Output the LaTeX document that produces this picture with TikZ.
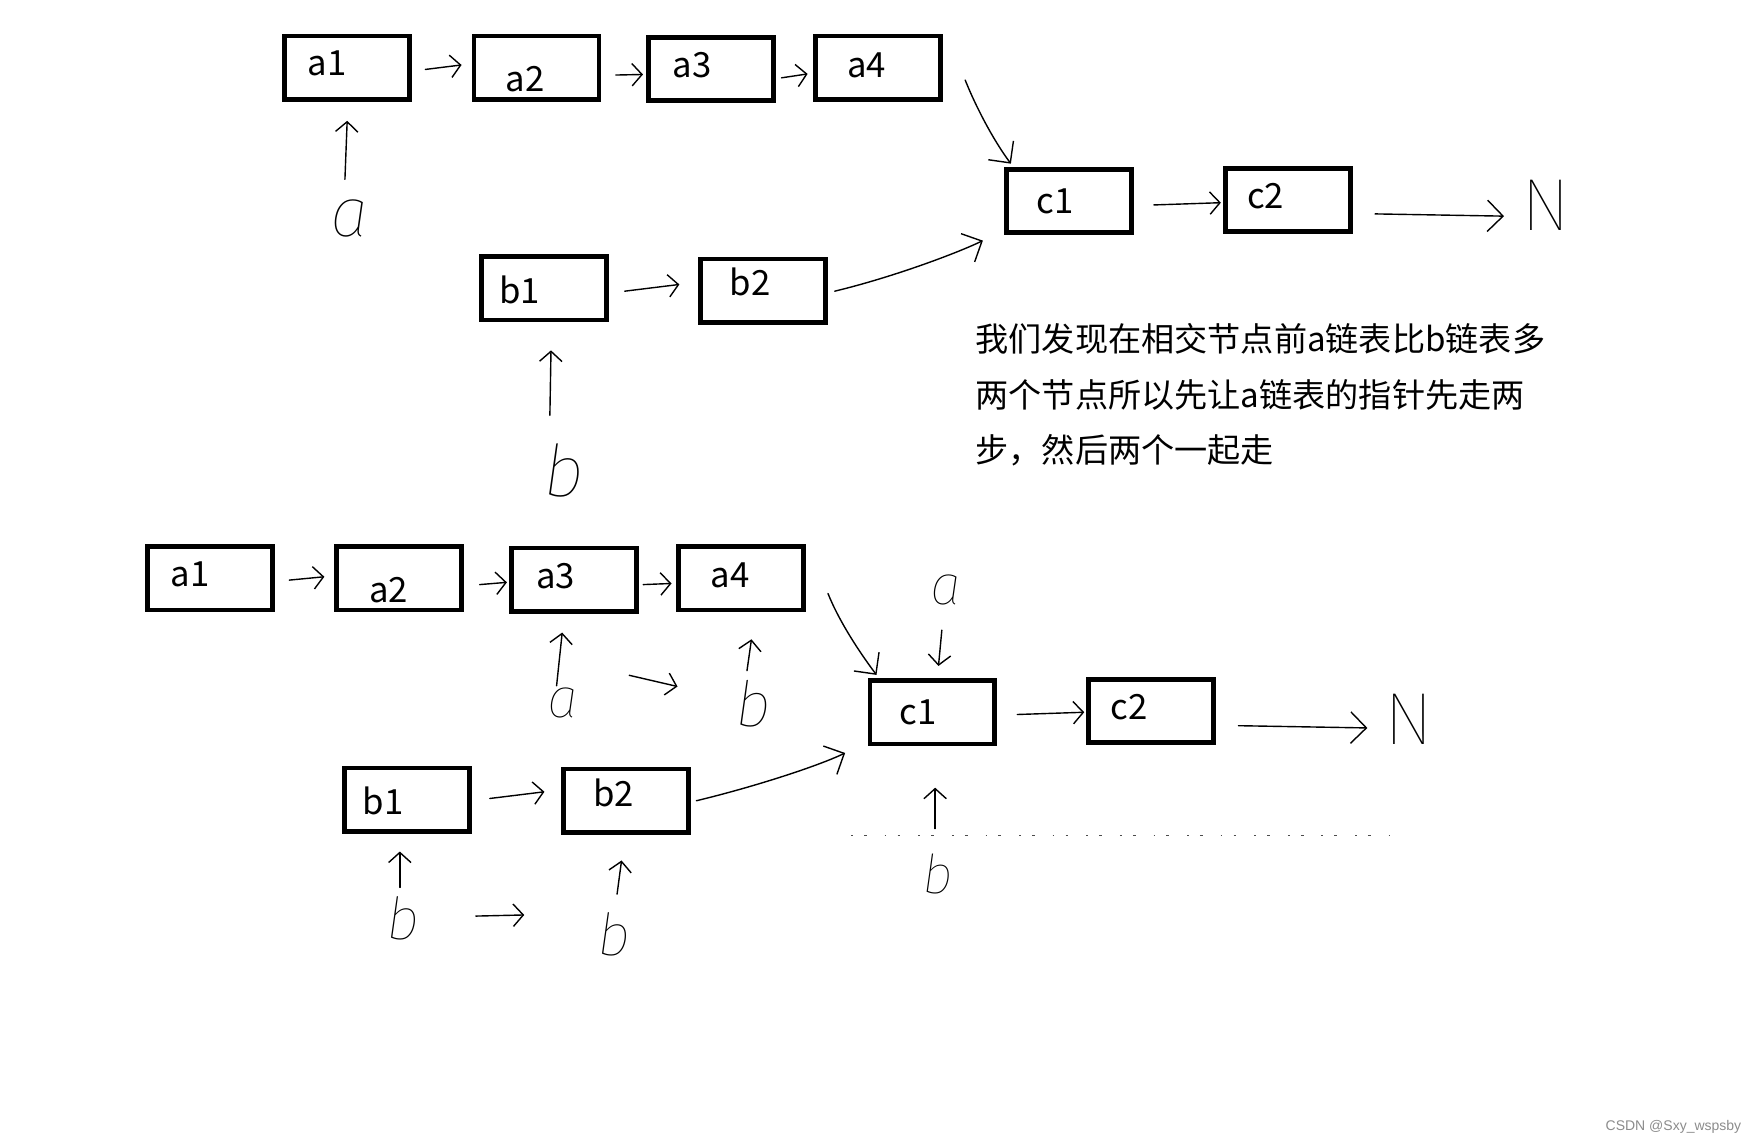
\documentclass[tikz,border=0pt]{standalone}
\usepackage{fontspec}
\usetikzlibrary{arrows.meta}
\newfontfamily\cjk{Noto Sans CJK SC}
\newfontfamily\handi{Fira Sans Thin Italic}
\newfontfamily\handn{Fira Sans Thin}
\newfontfamily\wmfont{Liberation Sans}
\tikzset{
  box/.style={draw, line width=4.2pt, minimum width=111.5pt, minimum height=56.5pt, inner sep=0pt},
  lab/.style={font=\cjk\fontsize{31}{31}\selectfont, inner sep=0pt},
  hand/.style={font=\handi\fontsize{#1}{#1}\selectfont, inner sep=0pt},
  handN/.style={font=\handn\fontsize{66}{66}\selectfont, inner sep=0pt},
  harrow/.style={line width=1.25pt, line cap=round, -{Straight Barb[length=9pt,width=20pt,line width=1.25pt]}},
  bigarrow/.style={line width=1.25pt, line cap=round, -{Straight Barb[length=14pt,width=28pt,line width=1.25pt]}},
  body/.style={font=\cjk\fontsize{29.6}{29.6}\selectfont, inner sep=0pt, anchor=base west}
}
\begin{document}
\begin{tikzpicture}[x=1pt,y=-1pt]
\fill[white] (0,0) rectangle (1568,1022);
\useasboundingbox (0,0) rectangle (1568,1022);

% ---------- top diagram ----------
\node[box] (ta1) at (310,60.5) {};
\node[box] (ta2) at (479,60.5) {};
\node[box] (ta3) at (635,61.5) {};
\node[box] (ta4) at (784,60.5) {};
\node[box] (tc1) at (954.5,179.5) {};
\node[box] (tc2) at (1150,178.5) {};
\node[box] (tb1) at (486,257.5) {};
\node[box] (tb2) at (681.5,259.5) {};

\node[lab] (ta1t) at (292,57) {a1};
\node[lab] (ta2t) at (469,71) {a2};
\node[lab] (ta3t) at (618,58) {a3};
\node[lab] (ta4t) at (774,58) {a4};
\node[lab] (tc1t) at (942,180) {c1};
\node[lab] (tc2t) at (1130,175) {c2};
\node[lab] (tb1t) at (464,259) {b1};
\node[lab] (tb2t) at (670,252) {b2};

\node[handN] (tN) at (1380,183) {N};
\node[hand=62] (tpa) at (312,195) {a};
\node[hand=64] (tpb) at (503,420) {b};

\draw[harrow] ([shift={(12,1.5)}]ta1.east) -- ([shift={(-9,-2.5)}]ta2.west);
\draw[harrow] ([shift={(13,6.5)}]ta2.east) -- ([shift={(-3,5)}]ta3.west);
\draw[harrow] ([shift={(5,8)}]ta3.east) -- ([shift={(-5,5.5)}]ta4.west);
\draw[bigarrow] ([shift={(20,11)}]ta4.east) .. controls +(10,25) and +(-15,-20) .. ([shift={(6,-3)}]tc1.north west);
\draw[harrow] ([shift={(18,3.5)}]tc1.east) -- ([shift={(-2,2.5)}]tc2.west);
\draw[bigarrow] ([shift={(20,12.5)}]tc2.east) -- ([shift={(-15,10)}]tN.west);
\draw[harrow] ([shift={(14,2.5)}]tb1.east) -- ([shift={(-17,-5.5)}]tb2.west);
\draw[bigarrow] ([shift={(6,0.5)}]tb2.east) .. controls +(50,-12) and +(-25,12) .. ([shift={(-19,5)}]tc1.south west);
\draw[harrow] ([shift={(-4,-18)}]tpa.north) -- ([shift={(0,17)}]ta1.south);
\draw[harrow] ([shift={(-12,-25)}]tpb.north) -- ([shift={(6,25)}]tb1.south);

% ---------- explanation ----------
\node[body] (t1) at (871,314) {我们发现在相交节点前a链表比b链表多};
\node[body] (t2) at (871,364) {两个节点所以先让a链表的指针先走两};
\node[body] (t3) at (871,413) {步，然后两个一起走};

% ---------- bottom diagram ----------
\node[box] (ba1) at (187.5,516.5) {};
\node[box] (ba2) at (356.5,516.5) {};
\node[box] (ba3) at (512.5,517.5) {};
\node[box] (ba4) at (661.5,516.5) {};
\node[box] (bc1) at (832.5,636) {};
\node[box] (bc2) at (1028,635) {};
\node[box] (bb1) at (363.5,714) {};
\node[box] (bb2) at (559,715) {};

\node[lab] (ba1t) at (170,513) {a1};
\node[lab] (ba2t) at (347,527) {a2};
\node[lab] (ba3t) at (496,514) {a3};
\node[lab] (ba4t) at (652,514) {a4};
\node[lab] (bc1t) at (820,636) {c1};
\node[lab] (bc2t) at (1008,631) {c2};
\node[lab] (bb1t) at (342,715) {b1};
\node[lab] (bb2t) at (548,708) {b2};

\node[handN] (bN) at (1258,642) {N};
\node[hand=50] (pa3) at (503,628) {a};
\node[hand=56] (pb4) at (673,628) {b};
\node[hand=50] (pca) at (845,527) {a};
\node[hand=48] (pcb) at (837,780) {b};
\node[hand=52] (pb1) at (360,820) {b};
\node[hand=52] (pb2) at (548,834) {b};

\draw[harrow] ([shift={(13,1.5)}]ba1.east) -- ([shift={(-9,-1.5)}]ba2.west);
\draw[harrow] ([shift={(14,5.5)}]ba2.east) -- ([shift={(-2,2.5)}]ba3.west);
\draw[harrow] ([shift={(4,4.5)}]ba3.east) -- ([shift={(-4,4.5)}]ba4.west);
\draw[bigarrow] ([shift={(20,13.5)}]ba4.east) .. controls +(10,25) and +(-15,-20) .. ([shift={(8,-3)}]bc1.north west);
\draw[harrow] ([shift={(16,-1)}]bb1.east) -- ([shift={(-15,-8)}]bb2.west);
\draw[bigarrow] ([shift={(5,0)}]bb2.east) .. controls +(50,-12) and +(-25,12) .. ([shift={(-20,6)}]bc1.south west);
\draw[harrow] ([shift={(18,2)}]bc1.east) -- ([shift={(-2,1)}]bc2.west);
\draw[bigarrow] ([shift={(20,13)}]bc2.east) -- ([shift={(-15,8)}]bN.west);

\draw[harrow] ([shift={(-6,-2)}]pa3.north) -- ([shift={(-10.5,17)}]ba3.south);
\draw[harrow] ([shift={(45,-25)}]pa3.east) -- ([shift={(-52,-15)}]pb4.west);
\draw[harrow] ([shift={(-6,-8)}]pb4.north) -- ([shift={(9.5,24)}]ba4.south);
\draw[harrow] ([shift={(-4,22)}]pca.south) -- ([shift={(5.5,-11)}]bc1.north);
\draw[harrow] ([shift={(-2,-22)}]pcb.north) -- ([shift={(2.5,37)}]bc1.south);
\draw[harrow] ([shift={(-3,-8)}]pb1.north) -- ([shift={(-6.5,16)}]bb1.south);
\draw[harrow] ([shift={(50,-2)}]pb1.east) -- ([shift={(-65,-17)}]pb2.west);
\draw[harrow] ([shift={(3,-16)}]pb2.north) -- ([shift={(-4,23)}]bb2.south);

% faint remnant of erased text
\draw[line width=1.3pt, dash pattern=on 1.5pt off 10pt on 2.5pt off 16pt, black!70] (760,746) -- (1245,746);

% watermark
\node[font=\wmfont\fontsize{12.5}{12.5}\selectfont, text=black!45, anchor=east, inner sep=0pt] (wm) at (1555,1006) {CSDN @Sxy\_wspsby};
\end{tikzpicture}
\end{document}
